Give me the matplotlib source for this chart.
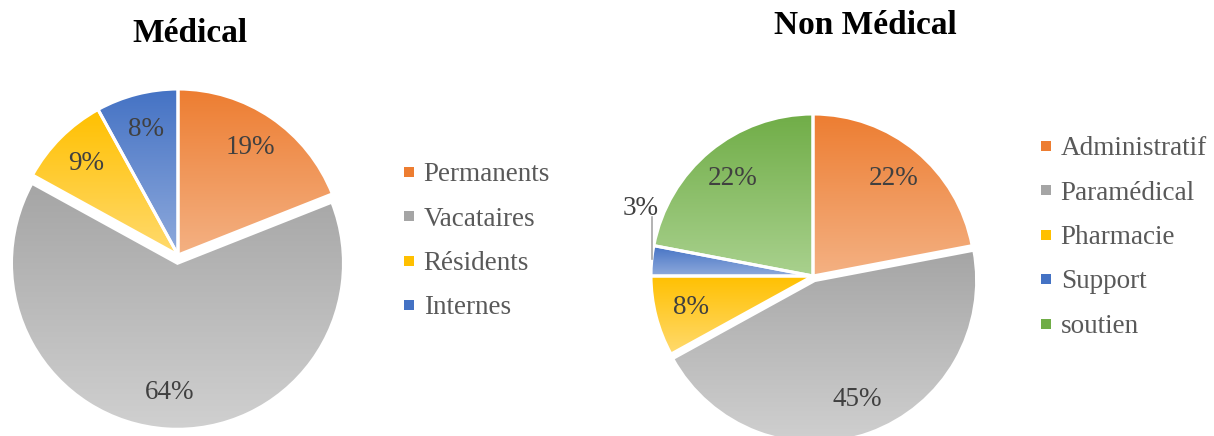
import numpy as np
import matplotlib
matplotlib.use("Agg")
import matplotlib.pyplot as plt
from matplotlib.colors import to_rgb
from matplotlib.lines import Line2D

plt.rcParams['font.family'] = ['Liberation Serif', 'DejaVu Serif']

W, H = 1214, 436

# %% Data
med_labels = ['Permanents', 'Vacataires', 'Résidents', 'Internes']
med_values = [19, 64, 9, 8]
nonmed_labels = ['Administratif', 'Paramédical', 'Pharmacie', 'Support', 'soutien']
nonmed_values = [22, 45, 8, 3, 22]

# Office style gradient colours (top, bottom)
orange = ('#ED7D31', '#F4B183')
grey = ('#A5A5A5', '#D0D0D0')
yellow = ('#FFC000', '#FFDA6E')
blue = ('#4472C4', '#8FAADC')
green = ('#70AD47', '#A9D18E')

med_colors = [orange, grey, yellow, blue]
nonmed_colors = [orange, grey, yellow, blue, green]

label_color = '#404040'
legend_color = '#595959'


def pie_axes(fig, cx, cy, r, box=400):
    # axes centred on pixel (cx, cy from top), radius r pixels = 1 data unit
    ax = fig.add_axes([(cx - box / 2) / W, (H - cy - box / 2) / H, box / W, box / H])
    ax.set_aspect('equal')
    ax.axis('off')
    return ax


def gradient_pie(ax, values, colors, explode, pctdist):
    wedges, texts, autotexts = ax.pie(
        values, startangle=90, counterclock=False, explode=explode,
        autopct=lambda p: f'{p:.0f}%', pctdistance=pctdist,
        wedgeprops=dict(edgecolor='white', linewidth=2.2),
        textprops=dict(color=label_color, fontsize=19.5))
    for w, (c1, c2) in zip(wedges, colors):
        bb = w.get_path().get_extents()
        t = np.linspace(0, 1, 256)[:, None]
        img = (1 - t) * np.array(to_rgb(c1)) + t * np.array(to_rgb(c2))
        im = ax.imshow(img[:, None, :], extent=[bb.x0, bb.x1, bb.y0, bb.y1],
                       origin='upper', aspect='auto', zorder=w.get_zorder() - 0.1)
        im.set_clip_path(w)
        w.set_facecolor('none')
    return wedges, autotexts


fig = plt.figure(figsize=(W / 100, H / 100), dpi=100)

# %% Médical
ax1 = pie_axes(fig, 178, 255, 166)
gradient_pie(ax1, med_values, med_colors, [0, 0.05, 0, 0], 0.78)
ax1.set_xlim(-400 / 2 / 166, 400 / 2 / 166)
ax1.set_ylim(-400 / 2 / 166, 400 / 2 / 166)

# %% Non Médical
ax2 = pie_axes(fig, 813, 276, 162)
w2, at2 = gradient_pie(ax2, nonmed_values, nonmed_colors, [0, 0.03, 0, 0, 0], 0.78)
ax2.set_xlim(-400 / 2 / 162, 400 / 2 / 162)
ax2.set_ylim(-400 / 2 / 162, 400 / 2 / 162)

# small "Support" slice label goes outside with a leader line
small = nonmed_labels.index('Support')
w = w2[small]
mid = np.deg2rad((w.theta1 + w.theta2) / 2)
ex, ey = np.cos(mid), np.sin(mid)
ax2.plot([ex, ex], [ey + 0.01, ey + 0.27], color='#A6A6A6', lw=1.2, zorder=5)
at2[small].set_position((ex - 0.07, ey + 0.32))

# %% Titles
fig.text(190 / W, 1 - 33 / H, 'Médical', ha='center', va='center',
         fontsize=24, fontweight='bold', color='black')
fig.text(865 / W, 1 - 25 / H, 'Non Médical', ha='center', va='center',
         fontsize=24, fontweight='bold', color='black')


def make_legend(labels, colors, x, y):
    handles = [Line2D([], [], marker='s', linestyle='', markersize=7,
                      color=c[0], markerfacecolor=c[0], markeredgewidth=0)
               for c in colors]
    leg = fig.legend(handles, labels, loc='upper left', bbox_to_anchor=(x / W, 1 - y / H),
                     frameon=False, fontsize=19.5, labelcolor=legend_color,
                     handlelength=0.5, handletextpad=0.3, labelspacing=0.72,
                     borderpad=0, borderaxespad=0)
    return leg


make_legend(med_labels, med_colors, 402, 162)
make_legend(nonmed_labels, nonmed_colors, 1039, 136)

fig.savefig('out.png', dpi=100)
